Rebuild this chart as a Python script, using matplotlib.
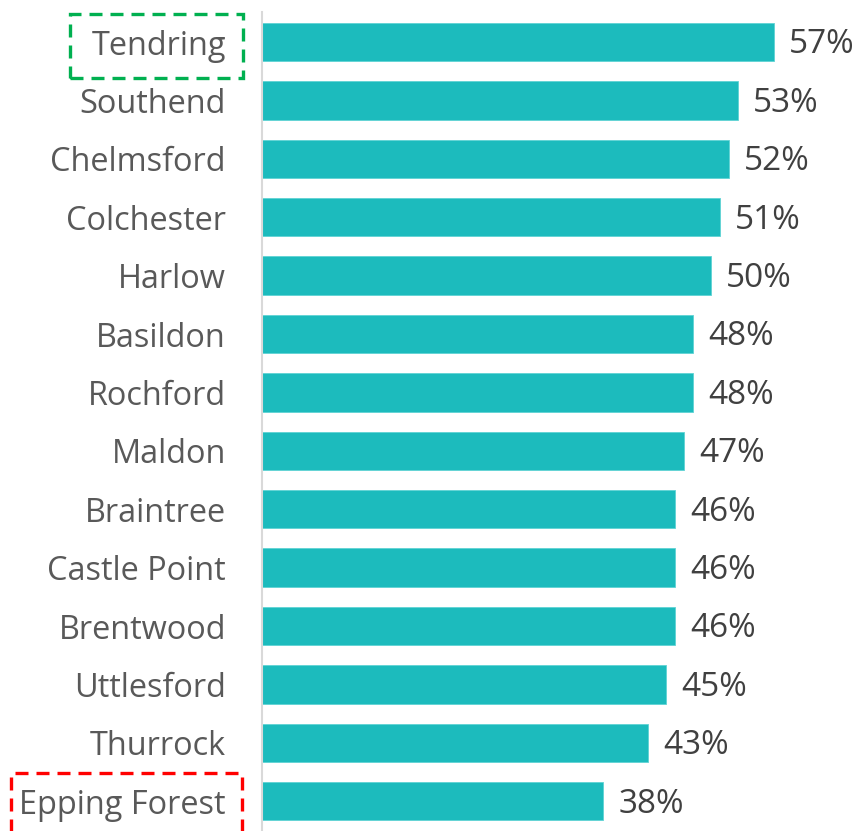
import matplotlib
matplotlib.use("Agg")
import matplotlib.pyplot as plt
from matplotlib.patches import Rectangle

areas = ["Tendring", "Southend", "Chelmsford", "Colchester", "Harlow", "Basildon",
         "Rochford", "Maldon", "Braintree", "Castle Point", "Brentwood",
         "Uttlesford", "Thurrock", "Epping Forest"]
pct = [57, 53, 52, 51, 50, 48, 48, 47, 46, 46, 46, 45, 43, 38]

bar_col = "#1CBBBD"
txt_col = "#595959"

plt.rcParams["font.family"] = ["Open Sans", "DejaVu Sans"]

fig = plt.figure(figsize=(8.61, 8.31), dpi=100)
ax = fig.add_axes([262 / 861, 0, 1 - 262 / 861, 1 - 12 / 831])

y = list(range(len(areas)))
ax.barh(y, pct, height=0.66, color=bar_col, edgecolor="#5FD3D4", linewidth=0.6)
for i, v in enumerate(pct):
    ax.text(v + 1.7, i + 0.05, f"{v}%", va="center", ha="left", fontsize=24, color="#404040")

ax.set_xlim(0, 66.7)
ax.set_ylim(13.51, -0.514)
ax.set_yticks(y)
ax.set_yticklabels(areas, fontsize=23.4, color=txt_col)
ax.tick_params(axis="y", length=0, pad=26)
ax.set_xticks([])
for s in ["top", "right", "bottom"]:
    ax.spines[s].set_visible(False)
ax.spines["left"].set_color("#D9D9D9")
ax.spines["left"].set_linewidth(1.5)

# dashed highlight boxes round the top and bottom labels
fig.canvas.draw()
r = fig.canvas.get_renderer()
labs = ax.get_yticklabels()
boxes = [(labs[0], "#00B050", 21, 17), (labs[-1], "#FF0000", 8, 16)]
for lab, col, padl, padr in boxes:
    bb = lab.get_window_extent(r)
    x0 = bb.x0 - padl
    x1 = bb.x1 + padr
    cy = (bb.y0 + bb.y1) / 2
    rect = Rectangle((x0, cy - 32), x1 - x0, 64, transform=None, fill=False,
                     edgecolor=col, linewidth=2.4, linestyle=(0, (3.9, 2.4)))
    fig.patches.append(rect)

fig.savefig("out.png", dpi=100)
